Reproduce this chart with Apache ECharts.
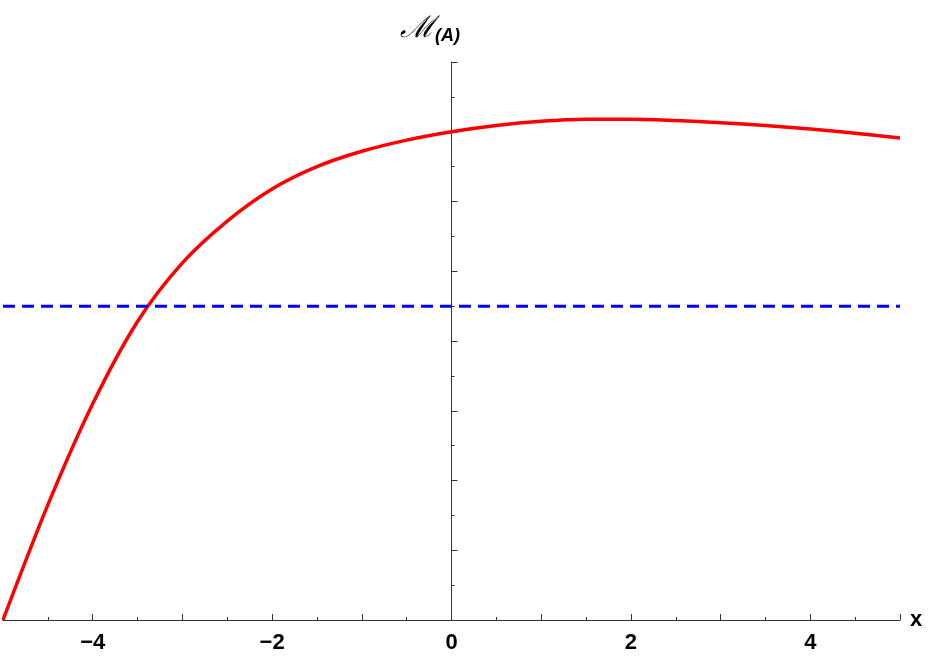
<!DOCTYPE html><html><head><meta charset="utf-8">
<script src="https://cdn.jsdelivr.net/npm/echarts@6/dist/echarts.min.js"></script>
<style>html,body{margin:0;background:#fff}#c{width:941px;height:672px}</style></head><body><div id="c"></div>
<script>
const xs=[-5,-4.5,-4,-3.5,-3,-2.5,-2,-1.5,-1,-0.5,0,0.5,1,1.5,2,2.5,3,3.5,4,4.5,5];
const ys=[0.30,0.465,0.61,0.728,0.812,0.872,0.918,0.95,0.972,0.988,1.0,1.009,1.015,1.018,1.018,1.016,1.013,1.009,1.004,0.998,0.991];
const refLevel=0.75;
const chart=echarts.init(document.getElementById('c'));
const lab={fontFamily:'Liberation Sans',fontWeight:'bold',fontSize:22,color:'#000'};
chart.setOption({
 animation:false,
 grid:{left:3,right:41,top:62,bottom:52,containLabel:false,outerBoundsMode:'none'},
 xAxis:{type:'value',min:-5,max:5,interval:1,
  axisLine:{onZero:false,lineStyle:{color:'#333'}},
  axisTick:{length:6,inside:true,lineStyle:{color:'#333'}},
  minorTick:{show:true,splitNumber:2,length:3},
  splitLine:{show:false},
  axisLabel:Object.assign({margin:12,formatter:v=>(v===-5||v%2!==0)?'':(v<0?'−'+(-v):''+v)},lab),
  name:'x',nameGap:10,nameTextStyle:lab},
 yAxis:{type:'value',min:0.3,max:1.1,interval:0.1,
  axisLine:{onZero:true,lineStyle:{color:'#333'}},
  axisTick:{length:6,inside:true,lineStyle:{color:'#333'}},
  minorTick:{show:true,splitNumber:2,length:3},
  splitLine:{show:false},
  axisLabel:Object.assign({margin:14,formatter:v=>{const r=Math.round(v*10);return (r%2===0&&r>=4&&r<=10)?(v.toFixed(1)):'';}},lab)},
 graphic:[{type:'text',left:400,top:14,style:{rich:{a:{fontFamily:'DejaVu Serif',fontStyle:'italic',fontSize:30},b:{fontFamily:'Liberation Sans',fontStyle:'italic',fontWeight:'bold',fontSize:18,padding:[14,0,0,0]}},text:'{a|ℳ}{b|(A)}'}}],
 series:[
  {type:'line',data:xs.map((x,i)=>[x,ys[i]]),smooth:0.3,symbol:'none',lineStyle:{color:'#f00',width:3.5}},
  {type:'line',data:[[-5,refLevel],[5,refLevel]],symbol:'none',lineStyle:{color:'#00f',width:3,type:[12,7]}}
 ]
});
</script></body></html>
